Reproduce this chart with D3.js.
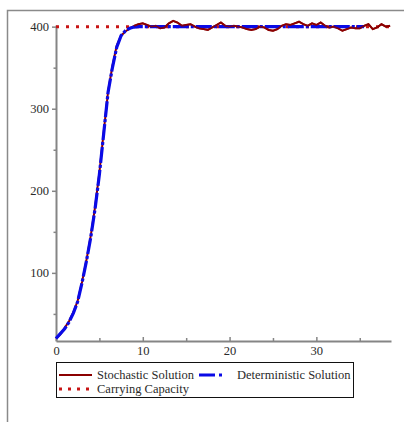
<!DOCTYPE html>
<html>
<head>
<meta charset="utf-8">
<script src="https://cdn.jsdelivr.net/npm/d3@7"></script>
<style>
  html, body { margin: 0; padding: 0; background: #fff; }
  svg { display: block; }
  svg text { font-family: 'Liberation Serif', 'DejaVu Serif', serif; }
</style>
</head>
<body>
<div class="chart"></div>
<script>
// values
let stochTimes = d3.range(0, 38.51, 0.5);
let stochValues = [
  20, 25, 33, 41, 52, 66, 89, 115, 145, 180,
  222, 272, 321, 352, 377, 389, 394, 398, 401, 403,
  404, 402, 400, 401, 398, 399, 404, 407, 405, 401,
  402, 403, 400, 398, 397, 396, 399, 402, 405, 401,
  400, 401, 400, 399, 397, 396, 397, 400, 399, 396,
  395, 397, 401, 403, 402, 404, 406, 403, 401, 404,
  402, 405, 401, 399, 400, 398, 395, 397, 399, 398,
  398, 401, 403, 397, 399, 403, 400, 401
];
let detTimes = [0, 0.5, 1, 1.5, 2, 2.5, 3, 3.5, 4, 4.5, 5, 5.5, 6, 6.5, 7, 7.5, 8, 8.5, 9, 9.5, 35.5];
let detValues = [20, 26, 32, 40, 51, 65, 88, 114, 143, 178, 220, 270, 320, 350, 375, 389, 395, 398, 399.5, 400, 400];
let capacity = 400;
let capacityRange = [0, 38.5];
let xMajorTicks = [0, 10, 20, 30];
let xMinorTicks = [5, 15, 25, 35];
let yMajorTicks = [100, 200, 300, 400];
let yMinorTicks = [50, 150, 250, 350];
let legendLabels = ["Stochastic Solution", "Deterministic Solution", "Carrying Capacity"];

let config = {
  width: 404,
  height: 422,
  axisColor: '#858585',
  textColor: '#2a2a2a',
  fontSize: '12.5px',
  stochColor: '#8b0000',
  detColor: '#0a0ae6',
  capColor: '#c81414'
};

let svg = d3.select('div.chart').append('svg')
  .attr('width', config.width)
  .attr('height', config.height);

// worksheet frame (top and left edge)
svg.append('path')
  .attr('d', 'M7.5,422 V10.5 H404')
  .attr('fill', 'none')
  .attr('stroke', '#8a8a8a')
  .attr('stroke-width', 1.5);

let x = d3.scaleLinear().domain([0, 38.6]).range([56, 391]);
let y = d3.scaleLinear().domain([17, 402]).range([341, 25]);

// x axis
let gx = svg.append('g').attr('transform', 'translate(0,' + y(17) + ')');
gx.call(d3.axisBottom(x).tickValues(xMajorTicks).tickSizeInner(-4).tickSizeOuter(0).tickPadding(5));
let gxMinor = svg.append('g').attr('transform', 'translate(0,' + y(17) + ')');
gxMinor.call(d3.axisBottom(x).tickValues(xMinorTicks).tickSizeInner(-3).tickSizeOuter(0).tickFormat(''));
gxMinor.select('.domain').remove();

// y axis
let gy = svg.append('g').attr('transform', 'translate(' + x(0) + ',0)');
gy.call(d3.axisLeft(y).tickValues(yMajorTicks).tickSizeInner(4).tickSizeOuter(0).tickPadding(3));
let gyMinor = svg.append('g').attr('transform', 'translate(' + x(0) + ',0)');
gyMinor.call(d3.axisLeft(y).tickValues(yMinorTicks).tickSizeInner(2.5).tickSizeOuter(0).tickFormat(''));
gyMinor.select('.domain').remove();

svg.selectAll('g').attr('font-family', null);
svg.selectAll('.domain, .tick line')
  .attr('stroke', config.axisColor)
  .attr('stroke-width', 1.5);
gx.select('.domain').attr('stroke-width', 2);
gy.select('.domain').attr('stroke-width', 2);
svg.selectAll('.tick text')
  .attr('fill', config.textColor)
  .attr('font-size', config.fontSize);

let line = d3.line()
  .x(d => x(d[0]))
  .y(d => y(d[1]));

// carrying capacity
svg.append('path')
  .attr('d', line(capacityRange.map(t => [t, capacity])))
  .attr('fill', 'none')
  .attr('stroke', config.capColor)
  .attr('stroke-width', 3)
  .attr('stroke-dasharray', '3,7');

let stochPoints = stochTimes.map((t, i) => [t, stochValues[i]]);

// stochastic
svg.append('path')
  .attr('d', line(stochPoints))
  .attr('fill', 'none')
  .attr('stroke', config.stochColor)
  .attr('stroke-width', 2);

// deterministic
svg.append('path')
  .attr('d', line(detTimes.map((t, i) => [t, detValues[i]])))
  .attr('fill', 'none')
  .attr('stroke', config.detColor)
  .attr('stroke-width', 3.2)
  .attr('stroke-dasharray', '16,2,3,2');

// stochastic wiggles show over the blue on the plateau
svg.append('path')
  .attr('d', line(stochPoints.filter(d => d[0] >= 9)))
  .attr('fill', 'none')
  .attr('stroke', config.stochColor)
  .attr('stroke-width', 1.8)
  .attr('opacity', 0.85);

/////////////////////////////////////////////////////////////////////////////
// legend
let legend = svg.append('g');
legend.append('rect')
  .attr('x', 56.5).attr('y', 362.5)
  .attr('width', 297).attr('height', 35)
  .attr('fill', 'none')
  .attr('stroke', '#111')
  .attr('stroke-width', 1);

let items = [
  {x: 59, y: 375, w: 33, color: config.stochColor, width: 2, dash: null},
  {x: 199, y: 375, w: 24, color: config.detColor, width: 3, dash: '16,4,3,10'},
  {x: 59, y: 389, w: 33, color: config.capColor, width: 3, dash: '3,6'}
];
let textX = [97, 237, 97];

items.forEach(function(d, i) {
  legend.append('line')
    .attr('x1', d.x).attr('x2', d.x + d.w)
    .attr('y1', d.y).attr('y2', d.y)
    .attr('stroke', d.color)
    .attr('stroke-width', d.width)
    .attr('stroke-dasharray', d.dash);
  legend.append('text')
    .attr('x', textX[i])
    .attr('y', d.y + 4)
    .attr('fill', config.textColor)
    .attr('font-size', config.fontSize)
    .text(legendLabels[i]);
});
</script>
</body>
</html>
